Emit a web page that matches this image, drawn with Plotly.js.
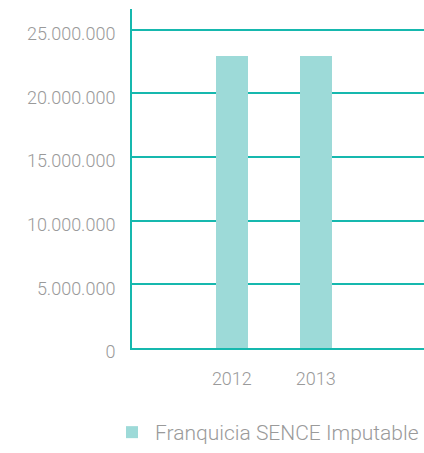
<!DOCTYPE html>
<html>
<head>
<meta charset="utf-8">
<script src="https://cdn.plot.ly/plotly-3.0.1.min.js"></script>
<style>html,body{margin:0;padding:0;background:#fff;}#chart{width:424px;height:453px;}</style>
</head>
<body>
<div id="chart"></div>
<script>
const years = [2012, 2013];
const yearLabels = ['2012', '2013'];
const franquicia = [22930000, 22930000];
const seriesName = 'Franquicia SENCE Imputable';
const yTicks = [0, 5000000, 10000000, 15000000, 20000000, 25000000];

const teal = '#16b8ae';
const barColor = '#9ddad8';
const gray = '#9a9a9a';
const fontFam = 'Roboto, "Open Sans", sans-serif';

Plotly.newPlot('chart', [{
  type: 'bar',
  x: years,
  y: franquicia,
  name: seriesName,
  width: 0.38,
  marker: {color: barColor},
  showlegend: true,
  hoverinfo: 'none'
}], {
  width: 424, height: 453,
  margin: {l: 132, r: 0, t: 9, b: 100},
  paper_bgcolor: '#fff', plot_bgcolor: '#fff',
  separators: ',.',
  font: {family: fontFam, color: gray, size: 18, weight: 300},
  xaxis: {
    range: [2010.81, 2014.29],
    tickvals: years, ticktext: yearLabels,
    showgrid: false, zeroline: false,
    showline: true, linecolor: teal, linewidth: 2,
    ticks: '', ticklabelstandoff: 13,
    tickfont: {family: fontFam, color: gray, size: 18, weight: 300}
  },
  yaxis: {
    range: [0, 26630000],
    tickvals: yTicks, tickformat: ',d',
    showgrid: true, gridcolor: teal, gridwidth: 2,
    zeroline: false,
    showline: true, linecolor: teal, linewidth: 2,
    ticks: '', ticklabelstandoff: 11, ticklabelshift: 4,
    tickfont: {family: fontFam, color: gray, size: 18, weight: 300}
  },
  showlegend: true,
  legend: {
    orientation: 'h', x: -0.035, xanchor: 'left', y: -0.25, yanchor: 'middle',
    itemwidth: 36,
    font: {family: fontFam, color: gray, size: 21, weight: 300},
    bgcolor: 'rgba(0,0,0,0)'
  },
  bargap: 0
}, {displayModeBar: false, staticPlot: true});
</script>
</body>
</html>
